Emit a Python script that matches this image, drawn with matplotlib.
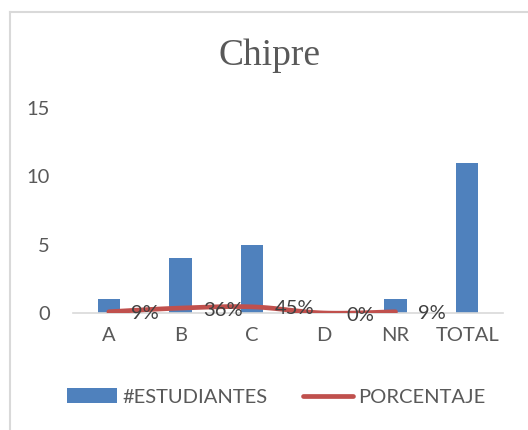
import numpy as np
import matplotlib
matplotlib.use("Agg")
import matplotlib.pyplot as plt
from matplotlib.lines import Line2D
from matplotlib.patches import Patch

categories = ["A", "B", "C", "D", "NR", "TOTAL"]
estudiantes = [1, 4, 5, 0, 1, 11]
porcentaje = [0.09, 0.36, 0.45, 0.0, 0.09]
porcentaje_labels = ["9%", "36%", "45%", "0%", "9%"]
y_ticks = [0, 5, 10, 15]

BLUE = "#4F81BD"
RED = "#C0504D"
TEXT = "#595959"
SANS = ["Lato", "DejaVu Sans"]

W, H = 528, 430
fig = plt.figure(figsize=(W / 100, H / 100), dpi=100)
fig.patch.set_facecolor("white")

# outer chart-area frame (top and left edges visible)
fig.add_artist(Line2D([9.5 / W, 9.5 / W], [0, 1 - 12 / H], transform=fig.transFigure,
                      color="#D9D9D9", lw=1.5))
fig.add_artist(Line2D([9.5 / W, 1], [1 - 12 / H, 1 - 12 / H], transform=fig.transFigure,
                      color="#D9D9D9", lw=1.5))

ax = fig.add_axes([73 / W, (H - 313) / H, 430 / W, 205 / H])
x = np.arange(len(categories))
ax.bar(x, estudiantes, width=0.31, color=BLUE, zorder=2)


def smooth(xs, ys, n=20):
    # Catmull-Rom curve through the points
    xs = np.asarray(xs, float)
    ys = np.asarray(ys, float)
    px = np.concatenate([[xs[0]], xs, [xs[-1]]])
    py = np.concatenate([[ys[0]], ys, [ys[-1]]])
    ox, oy = [], []
    for i in range(1, len(px) - 2):
        t = np.linspace(0, 1, n)
        for arr, out in ((px, ox), (py, oy)):
            p0, p1, p2, p3 = arr[i - 1], arr[i], arr[i + 1], arr[i + 2]
            out.extend(0.5 * ((2 * p1) + (-p0 + p2) * t
                              + (2 * p0 - 5 * p1 + 4 * p2 - p3) * t ** 2
                              + (-p0 + 3 * p1 - 3 * p2 + p3) * t ** 3))
    return np.array(ox), np.array(oy)


lx, ly = smooth(x[:len(porcentaje)], porcentaje)
ax.plot(lx, ly, color=RED, lw=3.4, solid_capstyle="round", zorder=3)

for xi, v, lab in zip(x, porcentaje, porcentaje_labels):
    ax.text(xi + 0.31, v - 0.15, lab, ha="left", va="center", fontsize=14.5,
            color="#404040", family=SANS, zorder=4)

ax.set_xlim(-0.5, len(categories) - 0.5)
ax.set_ylim(0, 15)
ax.set_yticks(y_ticks)
ax.set_xticks(x)
ax.set_xticklabels(categories)
for s in ["top", "right", "left"]:
    ax.spines[s].set_visible(False)
ax.spines["bottom"].set_color("#D9D9D9")
ax.spines["bottom"].set_linewidth(1.2)
ax.tick_params(axis="both", length=0, labelsize=14.5, colors=TEXT)
ax.tick_params(axis="y", pad=16.5)
ax.tick_params(axis="x", pad=10)
for lab in ax.get_xticklabels() + ax.get_yticklabels():
    lab.set_family(SANS)

fig.text(270 / W, 1 - 56 / H, "Chipre", ha="center", va="center",
         fontsize=27, color=TEXT, family=["Liberation Serif", "DejaVu Serif"])

handles = [Patch(facecolor=BLUE, edgecolor="none"),
           Line2D([0], [0], color=RED, lw=3.4, solid_capstyle="round")]
leg = fig.legend(handles, ["#ESTUDIANTES", "PORCENTAJE"], loc="center",
                 bbox_to_anchor=(276 / W, 1 - 397 / H), ncol=2, frameon=False,
                 handlelength=2.5, handleheight=0.7, handletextpad=0.25,
                 columnspacing=1.75, prop={"family": SANS, "size": 14.5})
for t in leg.get_texts():
    t.set_color(TEXT)

fig.savefig("out.png", dpi=100)
